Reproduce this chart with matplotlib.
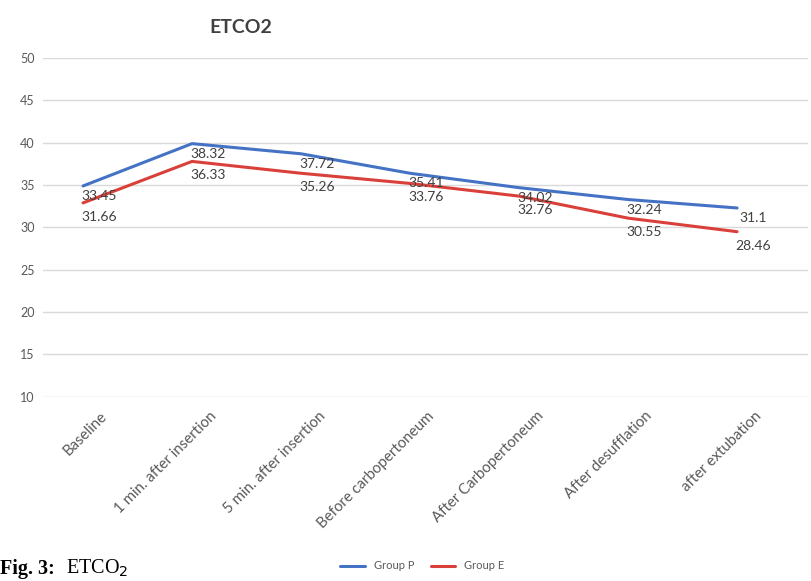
import numpy as np
import matplotlib.pyplot as plt

plt.rcParams['font.family'] = ['Lato', 'DejaVu Sans']

stages = ["Baseline", "1 min. after insertion", "5 min. after insertion",
          "Before carbopertoneum", "After Carbopertoneum", "After desufflation",
          "after extubation"]
# line positions
group_p = [34.9, 39.9, 38.7, 36.4, 34.7, 33.3, 32.3]
group_e = [32.9, 37.8, 36.4, 35.2, 33.7, 31.1, 29.5]
# data labels as printed on the chart
labels_p = ["33.45", "38.32", "37.72", "35.41", "34.02", "32.24", "31.1"]
labels_e = ["31.66", "36.33", "35.26", "33.76", "32.76", "30.55", "28.46"]

blue = "#4472C4"
red = "#D9403A"
grey = "#595959"

fig = plt.figure(figsize=(8.12, 5.81), dpi=100)
ax = fig.add_axes([0.053, 0.317, 0.942, 0.583])

x = np.arange(len(stages))
ax.plot(x, group_p, color=blue, lw=2.2, label="Group P", solid_capstyle="round")
ax.plot(x, group_e, color=red, lw=2.2, label="Group E", solid_capstyle="round")

for i in range(len(x)):
    ax.annotate(labels_p[i], (x[i], group_p[i]), xytext=(16, -10), textcoords="offset pixels",
                ha="center", va="center", fontsize=10, color="#404040")
    ax.annotate(labels_e[i], (x[i], group_e[i]), xytext=(16, -14), textcoords="offset pixels",
                ha="center", va="center", fontsize=10, color="#404040")

ax.set_ylim(10, 50)
ax.set_yticks(range(10, 51, 5))
ax.set_xlim(-0.367, 6.65)
ax.set_xticks(x)
ax.set_xticklabels([])
# slanted category labels, shifted right like the excel layout
for i in range(len(x)):
    ax.annotate(stages[i], (x[i], 0), xycoords=ax.get_xaxis_transform(),
                xytext=(22, -17), textcoords="offset pixels", rotation=45,
                rotation_mode="anchor", ha="right", va="center",
                fontsize=10.8, color=grey)
ax.tick_params(axis="y", labelsize=9, labelcolor=grey, length=0, pad=6)
ax.tick_params(axis="x", length=0)
ax.grid(axis="y", color="#D9D9D9", lw=1)
ax.set_axisbelow(True)
for s in ax.spines.values():
    s.set_visible(False)

fig.text(0.296, 0.952, "ETCO2", fontsize=14, fontweight="bold", color="#404040",
         ha="center", va="center")

fig.legend(loc="center", bbox_to_anchor=(0.52, 0.026), ncol=2, frameon=False,
           fontsize=8, labelcolor=grey, handlelength=2.2, columnspacing=1.5)

fig.text(0.0, 0.012, "Fig. 3:", fontsize=14.5, fontweight="bold",
         family="Liberation Serif", va="baseline", ha="left")
fig.text(0.081, 0.012, "ETCO$_2$", fontsize=14.5, family="Liberation Serif",
         va="baseline", ha="left")

fig.savefig("out.png", dpi=100)
